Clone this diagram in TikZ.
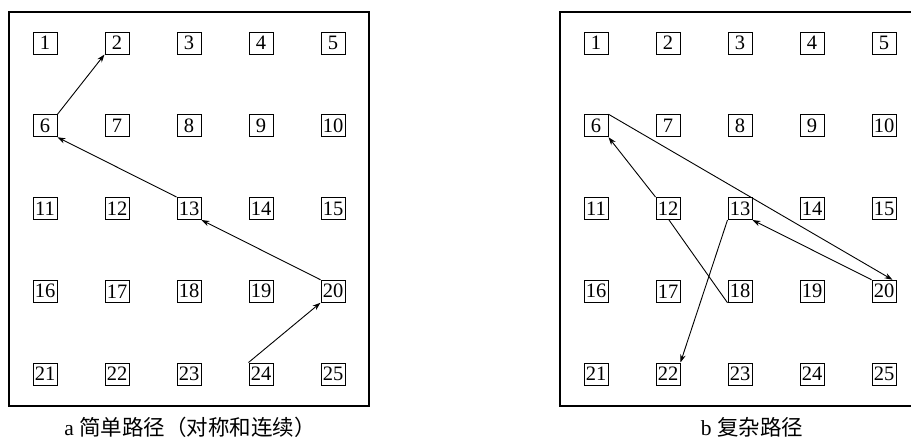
\documentclass[tikz,border=0pt]{standalone}
\usepackage{fontspec}
\setmainfont{Liberation Serif}
\newfontfamily\cjk{Noto Sans CJK SC}
\usetikzlibrary{arrows.meta}
\begin{document}
\begin{tikzpicture}[x=1pt,y=-1pt,
  cell/.style={draw, line width=1pt, minimum width=24pt, minimum height=22pt,
    inner sep=0.5pt, fill=white, font=\fontsize{20.5}{20}\selectfont},
  frame/.style={draw, line width=1.2pt},
  link/.style={line width=0.9pt},
  linkarrow/.style={link, -{Stealth[length=8pt,width=5.5pt]}},
  caption/.style={font=\fontsize{21.5}{23}\selectfont, inner sep=0pt}
]
\useasboundingbox (0,0) rectangle (911,442);
\draw[frame] (9,12) rectangle (369,406);
\draw[frame] (560,12) rectangle (925,406);
\foreach \n in {1,...,25}{
  \pgfmathtruncatemacro\cc{mod(\n-1,5)}
  \pgfmathtruncatemacro\rr{div(\n-1,5)}
  \node[cell] (a\n) at (45+72*\cc, 43+82.75*\rr) {\n};
  \node[cell] (b\n) at (596+72*\cc, 43+82.75*\rr) {\n};
}
% panel a
\draw[linkarrow] (a6.north east) -- (a2.south west);
\draw[linkarrow] (a13.north west) -- (a6.south east);
\draw[linkarrow] (a20.north west) -- (a13.south east);
\draw[linkarrow] (a24.north west) -- (a20.south west);
% panel b
\draw[linkarrow] (b6.north east) -- ([xshift=-4pt]b20.north east);
\draw[linkarrow] (b20.north west) -- (b13.south east);
\draw[link] (b18.south west) -- ([xshift=1pt]b12.south);
\draw[linkarrow] (b12.north west) -- (b6.south east);
\draw[linkarrow] (b13.south west) -- (b22.north east);
% captions
\node[caption] (capa) at (190,427) {a {\cjk 简单路径（对称和连续）}};
\node[caption] (capb) at (752,427) {b {\cjk 复杂路径}};
\end{tikzpicture}
\end{document}
